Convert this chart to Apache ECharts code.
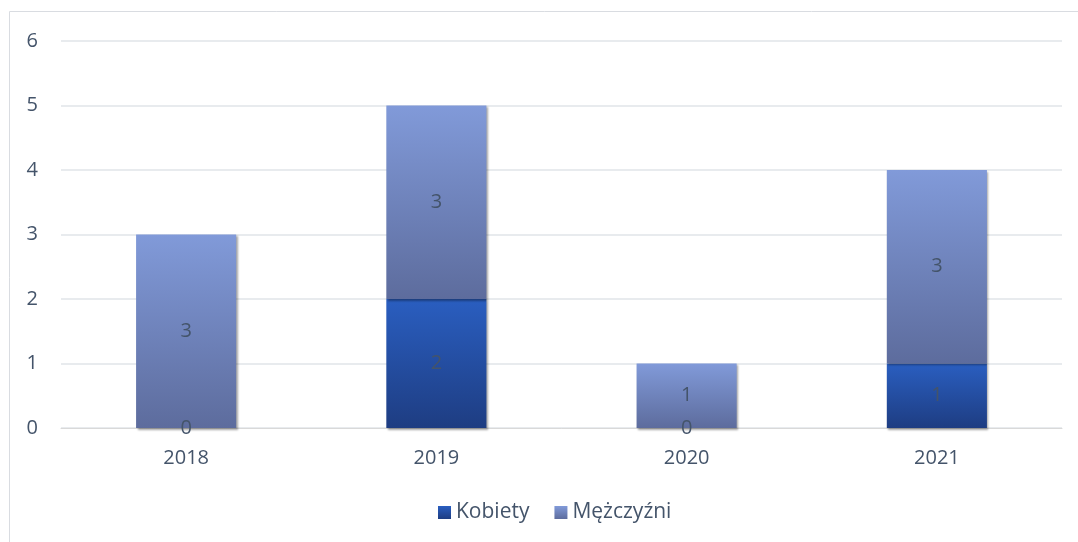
<!DOCTYPE html>
<html>
<head>
<meta charset="utf-8">
<script src="https://cdn.jsdelivr.net/npm/echarts@6/dist/echarts.min.js"></script>
<style>html,body{margin:0;padding:0;background:#fff}#c{width:1078px;height:542px}</style>
</head>
<body>
<div id="c"></div>
<script>
const categories = ['2018', '2019', '2020', '2021'];
const kobiety = [0, 2, 0, 1];
const mezczyzni = [3, 3, 1, 3];
const seriesNames = ['Kobiety', 'Mężczyźni'];

const FONT = 'Open Sans';
const TXT = '#44546A';
const FS = 20;
function grad(top, bottom) {
  return new echarts.graphic.LinearGradient(0, 0, 0, 1, [
    {offset: 0, color: top}, {offset: 1, color: bottom}
  ]);
}
const chart = echarts.init(document.getElementById('c'));
chart.setOption({
  animation: false,
  textStyle: {fontFamily: FONT},
  graphic: [{
    type: 'rect', shape: {x: 9.5, y: 11.5, width: 1200, height: 700},
    style: {fill: 'none', stroke: '#D9DCE1', lineWidth: 1}, silent: true, z: -1
  }],
  grid: {left: 61, right: 16, top: 41, bottom: 114},
  legend: {
    data: seriesNames, bottom: 14, left: 433,
    itemWidth: 13, itemHeight: 13, itemGap: 25, icon: 'rect',
    textStyle: {color: TXT, fontSize: 21, fontFamily: FONT, padding: [0, 0, 0, 0]}
  },
  xAxis: {
    type: 'category', data: categories,
    axisLine: {lineStyle: {color: '#D9D9D9', width: 1}},
    axisTick: {show: false},
    axisLabel: {color: TXT, fontSize: FS, fontFamily: FONT, margin: 20}
  },
  yAxis: {
    type: 'value', min: 0, max: 6, interval: 1,
    axisLine: {show: false}, axisTick: {show: false},
    splitLine: {lineStyle: {color: '#E1E4E9', width: 1.5}},
    axisLabel: {color: TXT, fontSize: FS, fontFamily: FONT, margin: 23}
  },
  series: [
    {
      name: seriesNames[0], type: 'bar', stack: 'a', data: kobiety, barWidth: '40%',
      itemStyle: {color: grad('#2A5EC0', '#1E3D82'), shadowColor: 'rgba(0,0,0,0.35)', shadowBlur: 2, shadowOffsetX: 1.5, shadowOffsetY: 1.5},
      label: {show: true, position: 'inside', color: TXT, fontSize: FS, fontFamily: FONT}
    },
    {
      name: seriesNames[1], type: 'bar', stack: 'a', data: mezczyzni, barWidth: '40%',
      itemStyle: {color: grad('#819AD9', '#5D6C9D'), shadowColor: 'rgba(0,0,0,0.35)', shadowBlur: 2, shadowOffsetX: 1.5, shadowOffsetY: 1.5},
      label: {show: true, position: 'inside', color: TXT, fontSize: FS, fontFamily: FONT}
    }
  ]
});
</script>
</body>
</html>
